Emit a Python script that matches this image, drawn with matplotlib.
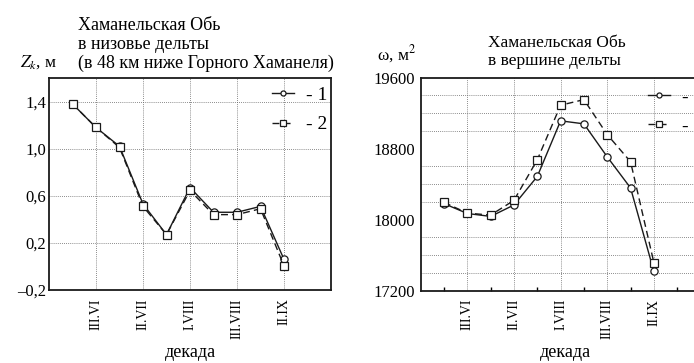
import matplotlib
matplotlib.use("Agg")
import matplotlib.pyplot as plt

plt.rcParams['font.family'] = ['Liberation Serif', 'DejaVu Serif']
plt.rcParams['mathtext.fontset'] = 'stix'

# ---- data ----
decades = ["II.VI", "III.VI", "I.VII", "II.VII", "III.VII",
           "I.VIII", "II.VIII", "III.VIII", "I.IX", "II.IX"]
tick_labels = ["III.VI", "II.VII", "I.VIII", "III.VIII", "II.IX"]
tick_idx = [1, 3, 5, 7, 9]

zk_1 = [1.38, 1.18, 1.02, 0.53, 0.27, 0.67, 0.46, 0.46, 0.51, 0.06]
zk_2 = [1.38, 1.18, 1.01, 0.51, 0.27, 0.645, 0.44, 0.44, 0.49, 0.005]

om_1 = [18181, 18070, 18037, 18166, 18487, 19114, 19080, 18708, 18358, 17417]
om_2 = [18195, 18074, 18052, 18218, 18675, 19290, 19353, 18959, 18653, 17517]

W, H = 694, 363
fig = plt.figure(figsize=(W / 100, H / 100), dpi=100)

def px_ax(x0, y0, x1, y1):
    return fig.add_axes([x0 / W, 1 - y1 / H, (x1 - x0) / W, (y1 - y0) / H])

col = '#1a1a1a'
gridkw = dict(linestyle=(0, (1, 1.5)), linewidth=0.6, color='#666666')
x = list(range(len(decades)))

def style(ax):
    for s in ax.spines.values():
        s.set_linewidth(1.3)
        s.set_color(col)
    ax.set_axisbelow(True)

mk = dict(markersize=5.2, markerfacecolor='white', markeredgecolor=col,
          markeredgewidth=0.9, color=col, linewidth=1.0)
legkw = dict(loc='upper left', frameon=False, fontsize=14,
             handlelength=1.15, handletextpad=0.6, labelspacing=0.62,
             markerscale=0.7, borderaxespad=0, borderpad=0)

# ---- left panel ----
ax1 = px_ax(49, 78, 331, 290)
l1, = ax1.plot(x, zk_1, '-', marker='o', **mk)
l2, = ax1.plot(x, zk_2, linestyle=(0, (5, 3)), marker='s', **mk)
ax1.set_xlim(-1, 11)
ax1.set_ylim(-0.2, 1.6)
ax1.set_yticks([-0.2, 0.2, 0.6, 1.0, 1.4])
ax1.set_yticklabels(["\u20130,2", "0,2", "0,6", "1,0", "1,4"], fontsize=12)
ax1.set_xticks(tick_idx)
ax1.set_xticklabels(tick_labels, rotation=90, fontsize=10)
ax1.tick_params(axis='y', length=0, pad=2)
ax1.tick_params(axis='x', length=0, pad=6)
style(ax1)
ax1.grid(True, **gridkw)
ax1.legend([l1, l2], ["- 1", "- 2"], bbox_to_anchor=(0.79, 0.962), **legkw)

# ---- right panel ----
ax2 = px_ax(420.7, 77.7, 700.5, 290.7)
r1, = ax2.plot(x, om_1, '-', marker='o', **mk)
r2, = ax2.plot(x, om_2, linestyle=(0, (5, 3)), marker='s', **mk)
ax2.set_xlim(-1, 11)
ax2.set_ylim(17200, 19600)
ax2.set_yticks([17200, 18000, 18800, 19600])
ax2.set_yticklabels(["17200", "18000", "18800", "19600"], fontsize=12)
ax2.set_yticks(list(range(17400, 19600, 200)), minor=True)
ax2.set_xticks(tick_idx)
ax2.set_xticklabels(tick_labels, rotation=90, fontsize=10)
ax2.set_xticks([0, 2, 4, 6, 8, 10], minor=True)
ax2.tick_params(axis='y', which='both', length=0, pad=4)
ax2.tick_params(axis='x', which='major', length=0, pad=6)
ax2.tick_params(axis='x', which='minor', length=3, direction='in', width=1.0)
style(ax2)
ax2.grid(True, which='minor', axis='y', **gridkw)
ax2.grid(True, which='major', axis='x', **gridkw)
ax2.legend([r1, r2], ["- 1", "- 2"], bbox_to_anchor=(0.812, 0.952), **legkw)

# ---- texts ----
def ftext(px, py, s, **kw):
    fig.text(px / W, 1 - py / H, s, **kw)

ftext(78, 30, "Хаманельская Обь", fontsize=13, va='baseline')
ftext(78, 49, "в низовье дельты", fontsize=13, va='baseline')
ftext(78, 68, "(в 48 км ниже Горного Хаманеля)", fontsize=13, va='baseline')
ftext(20, 67, "$Z_k$, м", fontsize=12.5, va='baseline')

ftext(488, 47, "Хаманельская Обь", fontsize=12.5, va='baseline')
ftext(488, 65, "в вершине дельты", fontsize=12.5, va='baseline')
ftext(377, 60, "ω, м$^2$", fontsize=12.5, va='baseline')

ftext(190, 357, "декада", fontsize=13, va='baseline', ha='center')
ftext(565, 357, "декада", fontsize=13, va='baseline', ha='center')

fig.savefig("out.png", dpi=100)
